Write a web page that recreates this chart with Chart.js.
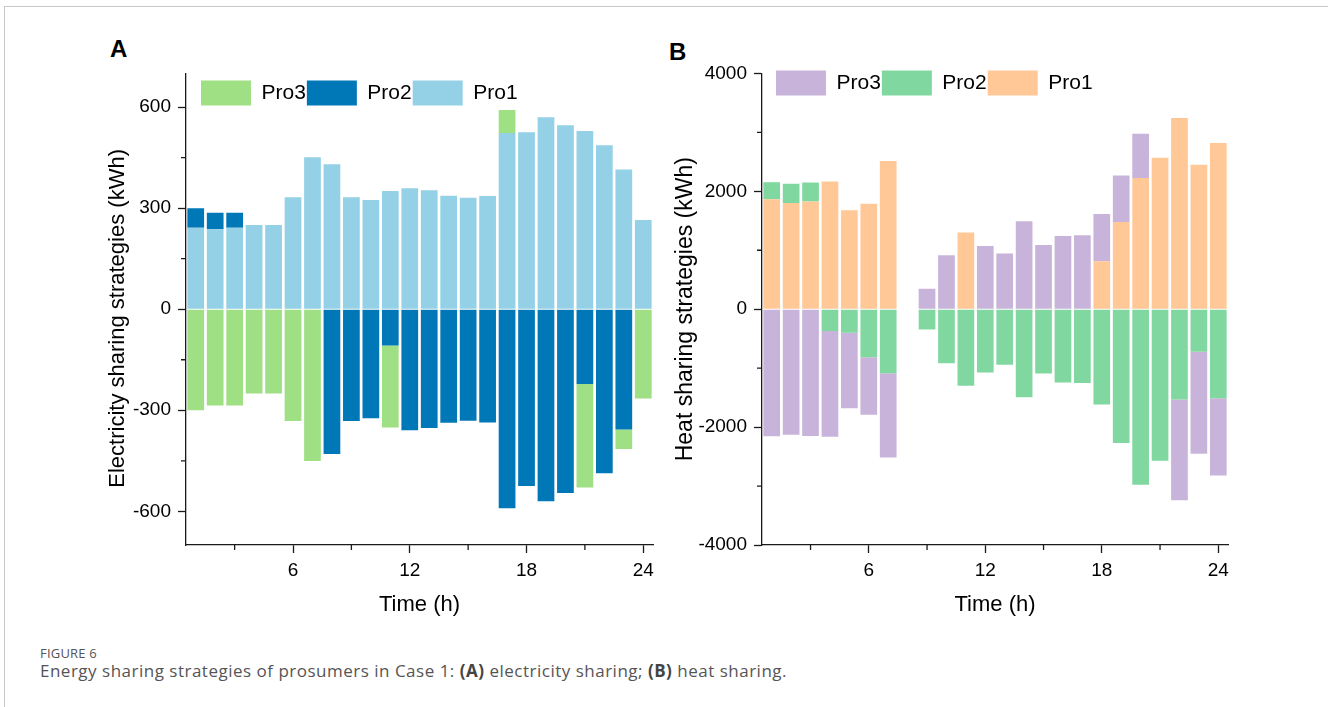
<!DOCTYPE html>
<html>
<head>
<meta charset="utf-8">
<title>Figure 6 - Energy sharing strategies</title>
<script src="https://cdn.jsdelivr.net/npm/chart.js@4.4.1/dist/chart.umd.min.js"></script>
<style>
    body {
        margin: 0;
        width: 1328px;
        height: 707px;
        overflow: hidden;
        position: relative;
        background: #fff;
        font-family: "Liberation Sans", Arial, sans-serif;
    }
    .frame {
        position: absolute;
        left: 4px;
        top: 6px;
        width: 1400px;
        height: 720px;
        border-top: 1.5px solid #c8c8c8;
        border-left: 1.5px solid #c8c8c8;
    }
    .panel-label {
        position: absolute;
        font-size: 24px;
        font-weight: bold;
        line-height: 1;
        color: #000;
    }
    canvas {
        position: absolute;
    }
    #chartA { left: 90px; top: 55px; }
    #chartB { left: 660px; top: 55px; }
    .fig-no {
        position: absolute;
        left: 40px;
        top: 646px;
        font-family: "Open Sans", Lato, sans-serif;
        font-size: 13px;
        line-height: 14px;
        letter-spacing: 0.2px;
        color: #555;
    }
    .caption {
        position: absolute;
        left: 40px;
        top: 661px;
        font-family: "Open Sans", Lato, sans-serif;
        font-size: 17px;
        line-height: 20px;
        letter-spacing: 0.5px;
        color: #555;
    }
    .caption b { color: #444; }
</style>
</head>
<body>
<div class="frame"></div>
<div class="panel-label" style="left:110px; top:37px;">A</div>
<div class="panel-label" style="left:669px; top:40px;">B</div>
<canvas id="chartA" width="590" height="575"></canvas>
<canvas id="chartB" width="590" height="575"></canvas>
<div class="fig-no">FIGURE 6</div>
<div class="caption">Energy sharing strategies of prosumers in Case 1: <b>(A)</b> electricity sharing; <b>(B)</b> heat sharing.</div>

<script>
// Hours of the day
const hours = [1, 2, 3, 4, 5, 6, 7, 8, 9, 10, 11, 12, 13, 14, 15, 16, 17, 18, 19, 20, 21, 22, 23, 24];

// (A) electricity sharing, kWh
const elecPro1 = [242, 237, 242, 250, 250, 332, 451, 430, 332, 324, 351, 359, 353, 337, 331, 336, 523, 525, 570, 546, 529, 487, 415, 265];
const elecPro2 = [58, 49, 44, 0, 0, 0, 0, -430, -332, -324, -108, -359, -353, -337, -331, -336, -591, -525, -570, -546, -222, -487, -357, 0];
const elecPro3 = [-300, -286, -286, -250, -250, -332, -451, 0, 0, 0, -243, 0, 0, 0, 0, 0, 68, 0, 0, 0, -307, 0, -58, -265];

// (B) heat sharing, kWh
const heatPro1 = [1865, 1800, 1825, 2165, 1680, 1790, 2515, 0, 0, 0, 1300, 0, 0, 0, 0, 0, 0, 815, 1480, 2225, 2571, 3243, 2452, 2819];
const heatPro2 = [290, 330, 325, -370, -400, -815, -1085, 0, -345, -915, -1300, -1073, -944, -1492, -1090, -1243, -1254, -1616, -2270, -2978, -2571, -1530, -720, -1510];
const heatPro3 = [-2155, -2130, -2150, -1795, -1280, -975, -1430, 0, 345, 915, 0, 1073, 944, 1492, 1090, 1243, 1254, 800, 790, 753, 0, -1713, -1732, -1309];

const seriesNames = ['Pro1', 'Pro2', 'Pro3'];
const elecColors = ['#94d1e6', '#0078b8', '#a0e084'];
const heatColors = ['#ffc896', '#80d8a0', '#c8b4da'];

// Tick positions
const xMajorTicks = [6, 12, 18, 24];
const xMinorTicks = [3, 9, 15, 21];
const elecMajorTicks = [-600, -300, 0, 300, 600];
const elecMinorTicks = [-450, -150, 150, 450];
const heatMajorTicks = [-4000, -2000, 0, 2000, 4000];
const heatMinorTicks = [-3000, -1000, 1000, 3000];

const axisColor = '#1a1a1a';
const fontFamily = '"Liberation Sans", Arial, sans-serif';

// Short (minor) tick marks, drawn on the library's scales
const minorTicks = {
    id: 'minorTicks',
    afterDraw(chart, args, opts) {
        const { ctx } = chart;
        const xs = chart.scales.x;
        const ys = chart.scales.y;
        ctx.save();
        ctx.strokeStyle = axisColor;
        ctx.lineWidth = 1.3;
        ctx.beginPath();
        opts.x.forEach(v => {
            const px = xs.getPixelForValue(v);
            ctx.moveTo(px, xs.top);
            ctx.lineTo(px, xs.top + 5);
        });
        opts.y.forEach(v => {
            const py = ys.getPixelForValue(v);
            ctx.moveTo(ys.right, py);
            ctx.lineTo(ys.right - 5, py);
        });
        ctx.stroke();
        ctx.restore();
    }
};

// Put the legend inside the plot area instead of above it
const insideLegend = {
    id: 'insideLegend',
    beforeLayout(chart) {
        const legend = chart.legend;
        if (!legend || legend._inside) return;
        const fit = legend.fit;
        legend.fit = function () {
            fit.call(this);
            this.height = 0;
        };
        legend._inside = true;
    },
    afterLayout(chart, args, opts) {
        const legend = chart.legend;
        const area = chart.chartArea;
        const pad = legend.options.labels.padding;
        legend.left = area.left + opts.dx - pad;
        legend.top = area.top + opts.dy - pad;
        legend.right = area.right;
        legend.bottom = legend.top + 40;
        legend.width = legend.right - legend.left;
        legend.height = 40;
    }
};

function buildChart(canvasId, values, colors, cfg) {
    const datasets = values.map((data, i) => ({
        label: seriesNames[i],
        data: data,
        backgroundColor: colors[i],
        borderWidth: 0,
        categoryPercentage: 1,
        barPercentage: 0.86
    }));

    return new Chart(document.getElementById(canvasId), {
        type: 'bar',
        data: { labels: hours, datasets: datasets },
        plugins: [minorTicks, insideLegend],
        options: {
            responsive: false,
            animation: false,
            layout: { padding: { top: 0, right: cfg.padRight, left: 0, bottom: 0 } },
            plugins: {
                tooltip: { enabled: false },
                minorTicks: { x: xMinorTicks, y: cfg.yMinor },
                insideLegend: { dx: cfg.legendDx, dy: cfg.legendDy },
                legend: {
                    reverse: true,
                    align: 'start',
                    labels: {
                        boxWidth: 50,
                        boxHeight: 25,
                        padding: 1,
                        color: '#000',
                        font: { family: fontFamily, size: 21 }
                    }
                }
            },
            scales: {
                x: {
                    type: 'linear',
                    min: 0.5,
                    max: 24.5,
                    offset: false,
                    stacked: true,
                    afterBuildTicks: s => { s.ticks = xMajorTicks.map(v => ({ value: v })); },
                    afterFit: s => { s.height = 85; },
                    ticks: {
                        color: '#000',
                        padding: 6,
                        maxRotation: 0,
                        autoSkip: false,
                        font: { family: fontFamily, size: 19 },
                        callback: v => String(v)
                    },
                    grid: { offset: false, drawOnChartArea: false, tickLength: 8, tickWidth: 1.3, tickColor: axisColor },
                    border: { color: axisColor, width: 1.3 },
                    title: {
                        display: true,
                        text: 'Time (h)',
                        color: '#000',
                        font: { family: fontFamily, size: 22 },
                        padding: { top: 0, bottom: 12 }
                    }
                },
                y: {
                    type: 'linear',
                    min: cfg.yMin,
                    max: cfg.yMax,
                    stacked: true,
                    afterBuildTicks: s => { s.ticks = cfg.yMajor.map(v => ({ value: v })); },
                    afterFit: s => { s.width = cfg.yWidth; },
                    ticks: {
                        color: '#000',
                        padding: 7,
                        font: { family: fontFamily, size: 19 },
                        callback: v => String(v)
                    },
                    grid: { drawOnChartArea: false, tickLength: 8, tickWidth: 1.3, tickColor: axisColor },
                    border: { color: axisColor, width: 1.3 },
                    title: {
                        display: true,
                        text: cfg.yTitle,
                        color: '#000',
                        font: { family: fontFamily, size: cfg.titleSize },
                        padding: { top: cfg.titlePad, bottom: 0 }
                    }
                }
            }
        }
    });
}

// (A) electricity sharing
buildChart('chartA', [elecPro1, elecPro2, elecPro3], elecColors, {
    yMin: -700, yMax: 700,
    yMajor: elecMajorTicks, yMinor: elecMinorTicks,
    yTitle: 'Electricity sharing strategies (kWh)   ',
    titleSize: 22,
    yWidth: 96, padRight: 27, titlePad: 15,
    legendDx: 15, legendDy: 7
});

// (B) heat sharing
buildChart('chartB', [heatPro1, heatPro2, heatPro3], heatColors, {
    yMin: -4000, yMax: 4000,
    yMajor: heatMajorTicks, yMinor: heatMinorTicks,
    yTitle: 'Heat sharing strategies (kWh)',
    titleSize: 23,
    yWidth: 102, padRight: 22, titlePad: 12,
    legendDx: 14, legendDy: -3
});
</script>
</body>
</html>
